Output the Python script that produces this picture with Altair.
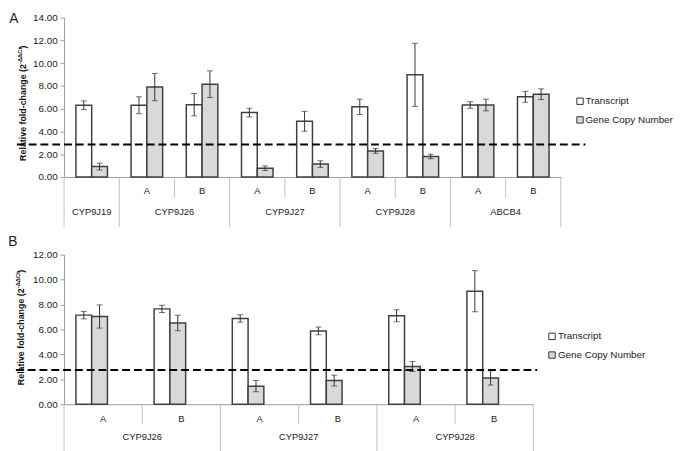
import altair as alt
import pandas as pd

series = ["Transcript", "Gene Copy Number"]
fills = ["#ffffff", "#d9d9d9"]

# Panel A
groups_A = ["CYP9J19", "CYP9J26", "CYP9J26", "CYP9J27", "CYP9J27", "CYP9J28", "CYP9J28", "ABCB4", "ABCB4"]
subs_A = ["", "A", "B", "A", "B", "A", "B", "A", "B"]
transcript_A = [6.30, 6.30, 6.35, 5.66, 4.89, 6.16, 8.97, 6.32, 7.04]
transcript_err_A = [0.38, 0.74, 0.98, 0.38, 0.87, 0.67, 2.77, 0.29, 0.48]
gcn_A = [0.91, 7.90, 8.15, 0.77, 1.13, 2.29, 1.80, 6.32, 7.27]
gcn_err_A = [0.30, 1.20, 1.17, 0.20, 0.29, 0.21, 0.20, 0.51, 0.47]
threshold_A = 2.85
ymax_A = 14

# Panel B
groups_B = ["CYP9J26", "CYP9J26", "CYP9J27", "CYP9J27", "CYP9J28", "CYP9J28"]
subs_B = ["A", "B", "A", "B", "A", "B"]
transcript_B = [7.15, 7.65, 6.88, 5.88, 7.10, 9.07]
transcript_err_B = [0.30, 0.29, 0.30, 0.31, 0.48, 1.65]
gcn_B = [7.04, 6.52, 1.45, 1.90, 3.03, 2.11]
gcn_err_B = [0.93, 0.62, 0.45, 0.43, 0.40, 0.57]
threshold_B = 2.75
ymax_B = 12

AXIS = "#9a9a9a"
SEP = "#c0c0c0"
INK = "#333333"
FONT = "Liberation Sans"

# approximate em widths (Liberation Sans Bold) used to chain the y-title pieces
TITLE_MAIN = "Relative fold-change (2"
TITLE_SUP = "-ΔΔCt"
MAIN_EM = 10.95
SUP_EM = 2.69
PAREN_EM = 0.333


def panel(label, groups, subs, tv, te, gv, ge, thr, ymax, W, H, o):
    keys = [f"{g}|{s}" for g, s in zip(groups, subs)]
    rows = []
    for k, v, e in zip(keys, tv, te):
        rows.append(dict(key=k, series=series[0], value=v, lo=v - e, hi=v + e))
    for k, v, e in zip(keys, gv, ge):
        rows.append(dict(key=k, series=series[1], value=v, lo=v - e, hi=v + e))
    df = pd.DataFrame(rows)

    yaxis = alt.Axis(values=list(range(0, ymax + 1, 2)), format=".2f",
                     title=None, grid=False, domainColor=AXIS,
                     tickColor=AXIS, tickSize=4, labelFont=FONT,
                     labelFontSize=10, labelColor="#222222",
                     labelPadding=3, labelOverlap=False)
    yscale = alt.Scale(domain=[0, ymax], nice=False)

    def Y(field):
        return alt.Y(field, title=None, scale=yscale, axis=yaxis)

    def X(bp=None):
        if bp is None:
            return alt.X("key:N", sort=keys, title=None)
        return alt.X("key:N", sort=keys, title=None, bandPosition=bp)

    xo = alt.XOffset("series:N", sort=series,
                     scale=alt.Scale(domain=series, paddingInner=0, paddingOuter=0.75))

    bars = alt.Chart(df).mark_bar(stroke="#404040", strokeWidth=1.5).encode(
        x=alt.X("key:N", sort=keys, title=None,
                scale=alt.Scale(paddingInner=0, paddingOuter=0),
                axis=alt.Axis(labels=False, ticks=False, title=None, grid=False,
                              domainColor=AXIS, domainWidth=1)),
        xOffset=xo,
        y=Y("value:Q"),
        fill=alt.Fill("series:N", scale=alt.Scale(domain=series, range=fills), legend=None),
    )
    err = alt.Chart(df).mark_rule(color=INK, strokeWidth=1).encode(
        x=X(), xOffset=alt.XOffset("series:N", sort=series),
        y=Y("lo:Q"), y2="hi:Q")
    cap_lo = alt.Chart(df).mark_tick(color=INK, thickness=1, size=6).encode(
        x=X(), xOffset=alt.XOffset("series:N", sort=series), y=Y("lo:Q"))
    cap_hi = alt.Chart(df).mark_tick(color=INK, thickness=1, size=6).encode(
        x=X(), xOffset=alt.XOffset("series:N", sort=series), y=Y("hi:Q"))

    thr_rule = alt.Chart(pd.DataFrame({"t": [thr]})).mark_rule(
        color="black", strokeWidth=2, strokeDash=[8, 4]).encode(
        y=Y("t:Q"), x=alt.value(o["dash_x0"]), x2=alt.value(W + o["dash_x1"]))

    # category separators and labels
    starts, counts = [], {}
    for i, g in enumerate(groups):
        counts[g] = counts.get(g, 0) + 1
        if i == 0 or groups[i - 1] != g:
            starts.append(i)
    inner = [keys[i] for i in range(len(keys)) if i not in starts]
    outer = [keys[i] for i in starts]

    sep_short = alt.Chart(pd.DataFrame({"key": inner})).mark_rule(color=SEP, strokeWidth=1).encode(
        x=X(0), y=alt.value(H), y2=alt.value(H + o["short"]))
    sep_long = alt.Chart(pd.DataFrame({"key": outer})).mark_rule(color=SEP, strokeWidth=1).encode(
        x=X(0), y=alt.value(H), y2=alt.value(H + o["long"]))
    sep_end = alt.Chart(pd.DataFrame({"key": [keys[-1]]})).mark_rule(color=SEP, strokeWidth=1).encode(
        x=X(1), y=alt.value(H), y2=alt.value(H + o["long"]))

    sub_df = pd.DataFrame({"key": keys, "sub": subs})
    sub_txt = alt.Chart(sub_df).mark_text(font=FONT, fontSize=o["cfs"], color="#222222",
                                          baseline="middle").encode(
        x=X(), y=alt.value(H + o["sub_y"]), text="sub:N")

    g2 = pd.DataFrame({"key": [keys[i] for i in starts if counts[groups[i]] == 2],
                       "grp": [groups[i] for i in starts if counts[groups[i]] == 2]})
    g1 = pd.DataFrame({"key": [keys[i] for i in starts if counts[groups[i]] == 1],
                       "grp": [groups[i] for i in starts if counts[groups[i]] == 1]})
    layers = [sep_short, sep_long, sep_end, bars, err, cap_lo, cap_hi, thr_rule, sub_txt]
    if len(g2):
        layers.append(alt.Chart(g2).mark_text(font=FONT, fontSize=o["cfs"], color="#222222",
                                              baseline="middle").encode(
            x=X(1), y=alt.value(H + o["grp_y"]), text="grp:N"))
    if len(g1):
        layers.append(alt.Chart(g1).mark_text(font=FONT, fontSize=o["cfs"], color="#222222",
                                              baseline="middle").encode(
            x=X(0.5), y=alt.value(H + o["grp_y"]), text="grp:N"))

    # panel letter
    layers.append(alt.Chart(pd.DataFrame({"l": [label]})).mark_text(
        font=FONT, fontSize=14, color="#222222", baseline="middle", align="center").encode(
        x=alt.value(o["lab_x"]), y=alt.value(o["lab_y"]), text="l:N"))

    # y title with superscript, chained bottom-to-top and centred on o["tc"]
    fs = o["tfs"]
    sfs = fs * 0.65
    main_len = MAIN_EM * fs
    sup_len = SUP_EM * sfs
    total = main_len + sup_len + PAREN_EM * fs
    bottom = o["tc"] + total / 2
    tdf = pd.DataFrame({"a": [TITLE_MAIN], "b": [TITLE_SUP], "c": [")"]})
    common = dict(font=FONT, fontWeight="bold", angle=270, align="left",
                  baseline="middle", color="#111111")
    layers.append(alt.Chart(tdf).mark_text(fontSize=fs, **common).encode(
        x=alt.value(o["tx"]), y=alt.value(bottom), text="a:N"))
    layers.append(alt.Chart(tdf).mark_text(fontSize=sfs, **common).encode(
        x=alt.value(o["tx"] - fs * 0.3), y=alt.value(bottom - main_len), text="b:N"))
    layers.append(alt.Chart(tdf).mark_text(fontSize=fs, **common).encode(
        x=alt.value(o["tx"]), y=alt.value(bottom - main_len - sup_len), text="c:N"))

    # legend
    for i, s in enumerate(series):
        ldf = pd.DataFrame({"s": [s]})
        ly = o["leg_y"] + i * 19
        layers.append(alt.Chart(ldf).mark_square(size=42, stroke="#333333", strokeWidth=1,
                                                 fill=fills[i], opacity=1).encode(
            x=alt.value(W + o["leg_sq"]), y=alt.value(ly)))
        layers.append(alt.Chart(ldf).mark_text(font=FONT, fontSize=10, align="left",
                                               baseline="middle", color="#222222").encode(
            x=alt.value(W + o["leg_tx"]), y=alt.value(ly), text="s:N"))

    return alt.layer(*layers).properties(width=W, height=H)


optA = dict(dash_x0=-48, dash_x1=25, short=21, long=51, sub_y=14, grp_y=36, cfs=9.5,
            lab_x=-51, lab_y=1, tfs=9, tx=-42, tc=87,
            leg_y=85, leg_sq=19.5, leg_tx=25)
optB = dict(dash_x0=-49, dash_x1=4, short=20, long=55, sub_y=15, grp_y=33, cfs=9.5,
            lab_x=-52, lab_y=-13, tfs=9, tx=-44, tc=74,
            leg_y=83, leg_sq=19, leg_tx=25)

panelA = panel("A", groups_A, subs_A, transcript_A, transcript_err_A, gcn_A, gcn_err_A,
               threshold_A, ymax_A, 505, 162, optA)
panelB = panel("B", groups_B, subs_B, transcript_B, transcript_err_B, gcn_B, gcn_err_B,
               threshold_B, ymax_B, 477, 152, optB)

chart = alt.vconcat(panelA, panelB, spacing=79, bounds="flush").properties(
    padding=0).configure_view(stroke=None).configure_axis(labelOverlap=False)

chart.save("out.html", embed_options={"renderer": "svg", "actions": False})
